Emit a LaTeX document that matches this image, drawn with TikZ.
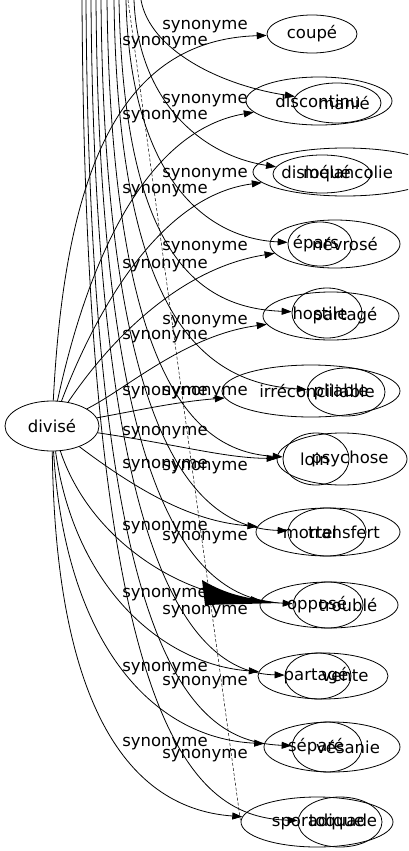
\documentclass[tikz,border=0pt]{standalone}
\usepackage{fontspec}
\setmainfont{DejaVu Sans}
\usetikzlibrary{arrows.meta,shapes.geometric}
\tikzset{
	word/.style = {ellipse, draw=black, line width=0.8pt, inner sep=0pt, font=\fontsize{16.5}{18}\selectfont},
	syn/.style = {inner sep=0pt, font=\fontsize{16.5}{18}\selectfont},
	rel/.style = {-{Triangle[length=10pt,width=7pt]}, line width=0.8pt},
	stray/.style = {dash pattern=on 3pt off 2pt, line width=0.5pt}
}
\begin{document}
\begin{tikzpicture}[x=1pt, y=-1pt]
		\useasboundingbox (0,0) rectangle (408,851);
		\clip (0,0) rectangle (408,851);
		\fill [white] (0,0) rectangle (408,851);
		\node [word, minimum width=94pt, minimum height=50pt] (divise) at (52,426) {divisé};
		\node [word, minimum width=90pt, minimum height=38pt] (coupe) at (312,34) {coupé};
		\node [word, minimum width=146pt, minimum height=48pt, label={[syn, xshift=-1pt]center:discontinu}] (discontinu) at (319,101) {};
		\node [word, minimum width=88pt, minimum height=40pt, label={[syn, xshift=7pt]center:manié}] (manie) at (337,103) {};
		\node [word, minimum width=184pt, minimum height=48pt, label={[syn, xshift=3pt]center:mélancolie}] (melancolie) at (345,172) {};
		\node [word, minimum width=98pt, minimum height=38pt, label={[syn, xshift=-6pt]center:disloqué}] (disloque) at (322,174) {};
		\node [word, minimum width=130pt, minimum height=48pt, label={[syn, xshift=10pt]center:névrosé}] (nevrose) at (335,244) {};
		\node [word, minimum width=64pt, minimum height=44pt, label={[syn, xshift=-4pt]center:épars}] (epars) at (320,244) {};
		\node [word, minimum width=136pt, minimum height=48pt, label={[syn, xshift=14pt]center:partagé}] (partageA) at (331,316) {};
		\node [word, minimum width=70pt, minimum height=50pt, label={[syn, xshift=-7pt]center:hostile}] (hostile) at (327,313) {};
		\node [word, minimum width=178pt, minimum height=52pt, label={[syn, xshift=6pt]center:irréconciliable}] (irreconciliable) at (311,391) {};
		\node [word, minimum width=78pt, minimum height=48pt, label={[syn, xshift=-5pt]center:pliable}] (pliable) at (346,392) {};
		\node [word, minimum width=130pt, minimum height=52pt, label={[syn, xshift=8pt]center:psychose}] (psychose) at (342,459) {};
		\node [word, minimum width=66pt, minimum height=52pt, label={[syn, xshift=-1pt]center:loin}] (loin) at (316,459) {};
		\node [word, minimum width=144pt, minimum height=48pt, label={[syn, xshift=16pt]center:transfert}] (transfert) at (328,532) {};
		\node [word, minimum width=78pt, minimum height=48pt, label={[syn, xshift=-17pt]center:mortel}] (mortel) at (327,532) {};
		\node [word, minimum width=138pt, minimum height=46pt, label={[syn, xshift=19pt]center:troublé}] (trouble) at (329,605) {};
		\node [word, minimum width=70pt, minimum height=46pt, label={[syn, xshift=-11pt]center:opposé}] (oppose) at (328,605) {};
		\node [word, minimum width=130pt, minimum height=46pt, label={[syn, xshift=-7pt]center:partagé}] (partageB) at (323,676) {};
		\node [word, minimum width=66pt, minimum height=46pt, label={[syn, xshift=27pt]center:vente}] (vente) at (318,676) {};
		\node [word, minimum width=136pt, minimum height=50pt, label={[syn, xshift=16pt]center:vésanie}] (vesanie) at (332,747) {};
		\node [word, minimum width=70pt, minimum height=50pt, label={[syn, xshift=-11pt]center:séparé}] (separe) at (327,747) {};
		\node [word, minimum width=152pt, minimum height=50pt, label={[syn, xshift=1pt]center:sporadique}] (sporadique) at (317,822) {};
		\node [word, minimum width=84pt, minimum height=50pt, label={[syn, xshift=3pt]center:toquade}] (toquade) at (340,822) {};
		\coordinate (t2) at (141,0);
		\coordinate (t3) at (134,0);
		\coordinate (t4) at (126,0);
		\coordinate (t5) at (119,0);
		\coordinate (t6) at (114,0);
		\coordinate (t7) at (107,0);
		\coordinate (t8) at (101,0);
		\coordinate (t9) at (96,0);
		\coordinate (t10) at (91,0);
		\coordinate (t11) at (86,0);
		\coordinate (t12) at (82,0);
		\coordinate (dash) at (128,0);
		\draw [rel] (divise) .. controls (65,170) and (120,40) .. (coupe);
		\draw [rel] (divise) .. controls (90,250) and (150,130) .. (discontinu);
		\draw [rel] (divise) .. controls (100,300) and (165,195) .. (melancolie);
		\draw [rel] (divise) .. controls (110,340) and (180,268) .. (nevrose);
		\draw [rel] (divise) .. controls (125,390) and (185,335) .. (partageA);
		\draw [rel] (divise) .. controls (140,410) and (175,402) .. (irreconciliable);
		\draw [rel] (divise) .. controls (180,445) and (225,458) .. (psychose);
		\draw [rel] (divise) .. controls (150,500) and (200,522) .. (transfert);
		\draw [rel] (divise) .. controls (90,540) and (180,595) .. (trouble);
		\draw [rel] (divise) .. controls (75,590) and (165,665) .. (partageB);
		\draw [rel] (divise) .. controls (65,640) and (150,738) .. (vesanie);
		\draw [rel] (divise) .. controls (55,690) and (120,808) .. (sporadique);
		\draw [rel] (t2) .. controls (150,50) and (220,85) .. (manie);
		\draw [rel] (t3) .. controls (138,100) and (200,155) .. (disloque);
		\draw [rel] (t4) .. controls (130,170) and (200,238) .. (epars);
		\draw [rel] (t5) .. controls (124,250) and (195,308) .. (hostile);
		\draw [rel] (t6) .. controls (118,320) and (205,383) .. (pliable);
		\draw [rel] (t7) .. controls (112,400) and (205,452) .. (loin);
		\draw [rel] (t8) .. controls (105,460) and (205,528) .. (mortel);
		\draw [rel] (t9) .. controls (100,530) and (205,600) .. (oppose);
		\draw [rel] (t10) .. controls (95,600) and (205,673) .. (vente);
		\draw [rel] (t11) .. controls (90,670) and (195,742) .. (separe);
		\draw [rel] (t12) .. controls (86,740) and (195,817) .. (toquade);
		\draw [stray] (dash) -- (sporadique.west);
		\fill (202,580) .. controls (222,592) and (240,597) .. (262,600) -- (280,603) -- (205,605) -- cycle;
		\node [syn] (s1) at (205,27) {synonyme};
		\node [syn] (s2) at (165,43) {synonyme};
		\node [syn] (s3) at (205,101) {synonyme};
		\node [syn] (s4) at (165,117) {synonyme};
		\node [syn] (s5) at (205,175) {synonyme};
		\node [syn] (s6) at (165,191) {synonyme};
		\node [syn] (s7) at (205,248) {synonyme};
		\node [syn] (s8) at (165,266) {synonyme};
		\node [syn] (s9) at (205,322) {synonyme};
		\node [syn] (s10) at (165,337) {synonyme};
		\node [syn] (s11) at (165,393) {synonyme};
		\node [syn] (s12) at (205,393) {synonyme};
		\node [syn] (s13) at (165,433) {synonyme};
		\node [syn] (s14) at (165,466) {synonyme};
		\node [syn] (s15) at (205,468) {synonyme};
		\node [syn] (s16) at (165,528) {synonyme};
		\node [syn] (s17) at (205,538) {synonyme};
		\node [syn] (s18) at (165,595) {synonyme};
		\node [syn] (s19) at (205,612) {synonyme};
		\node [syn] (s20) at (165,669) {synonyme};
		\node [syn] (s21) at (205,683) {synonyme};
		\node [syn] (s22) at (165,744) {synonyme};
		\node [syn] (s23) at (205,756) {synonyme};
\end{tikzpicture}
\end{document}
